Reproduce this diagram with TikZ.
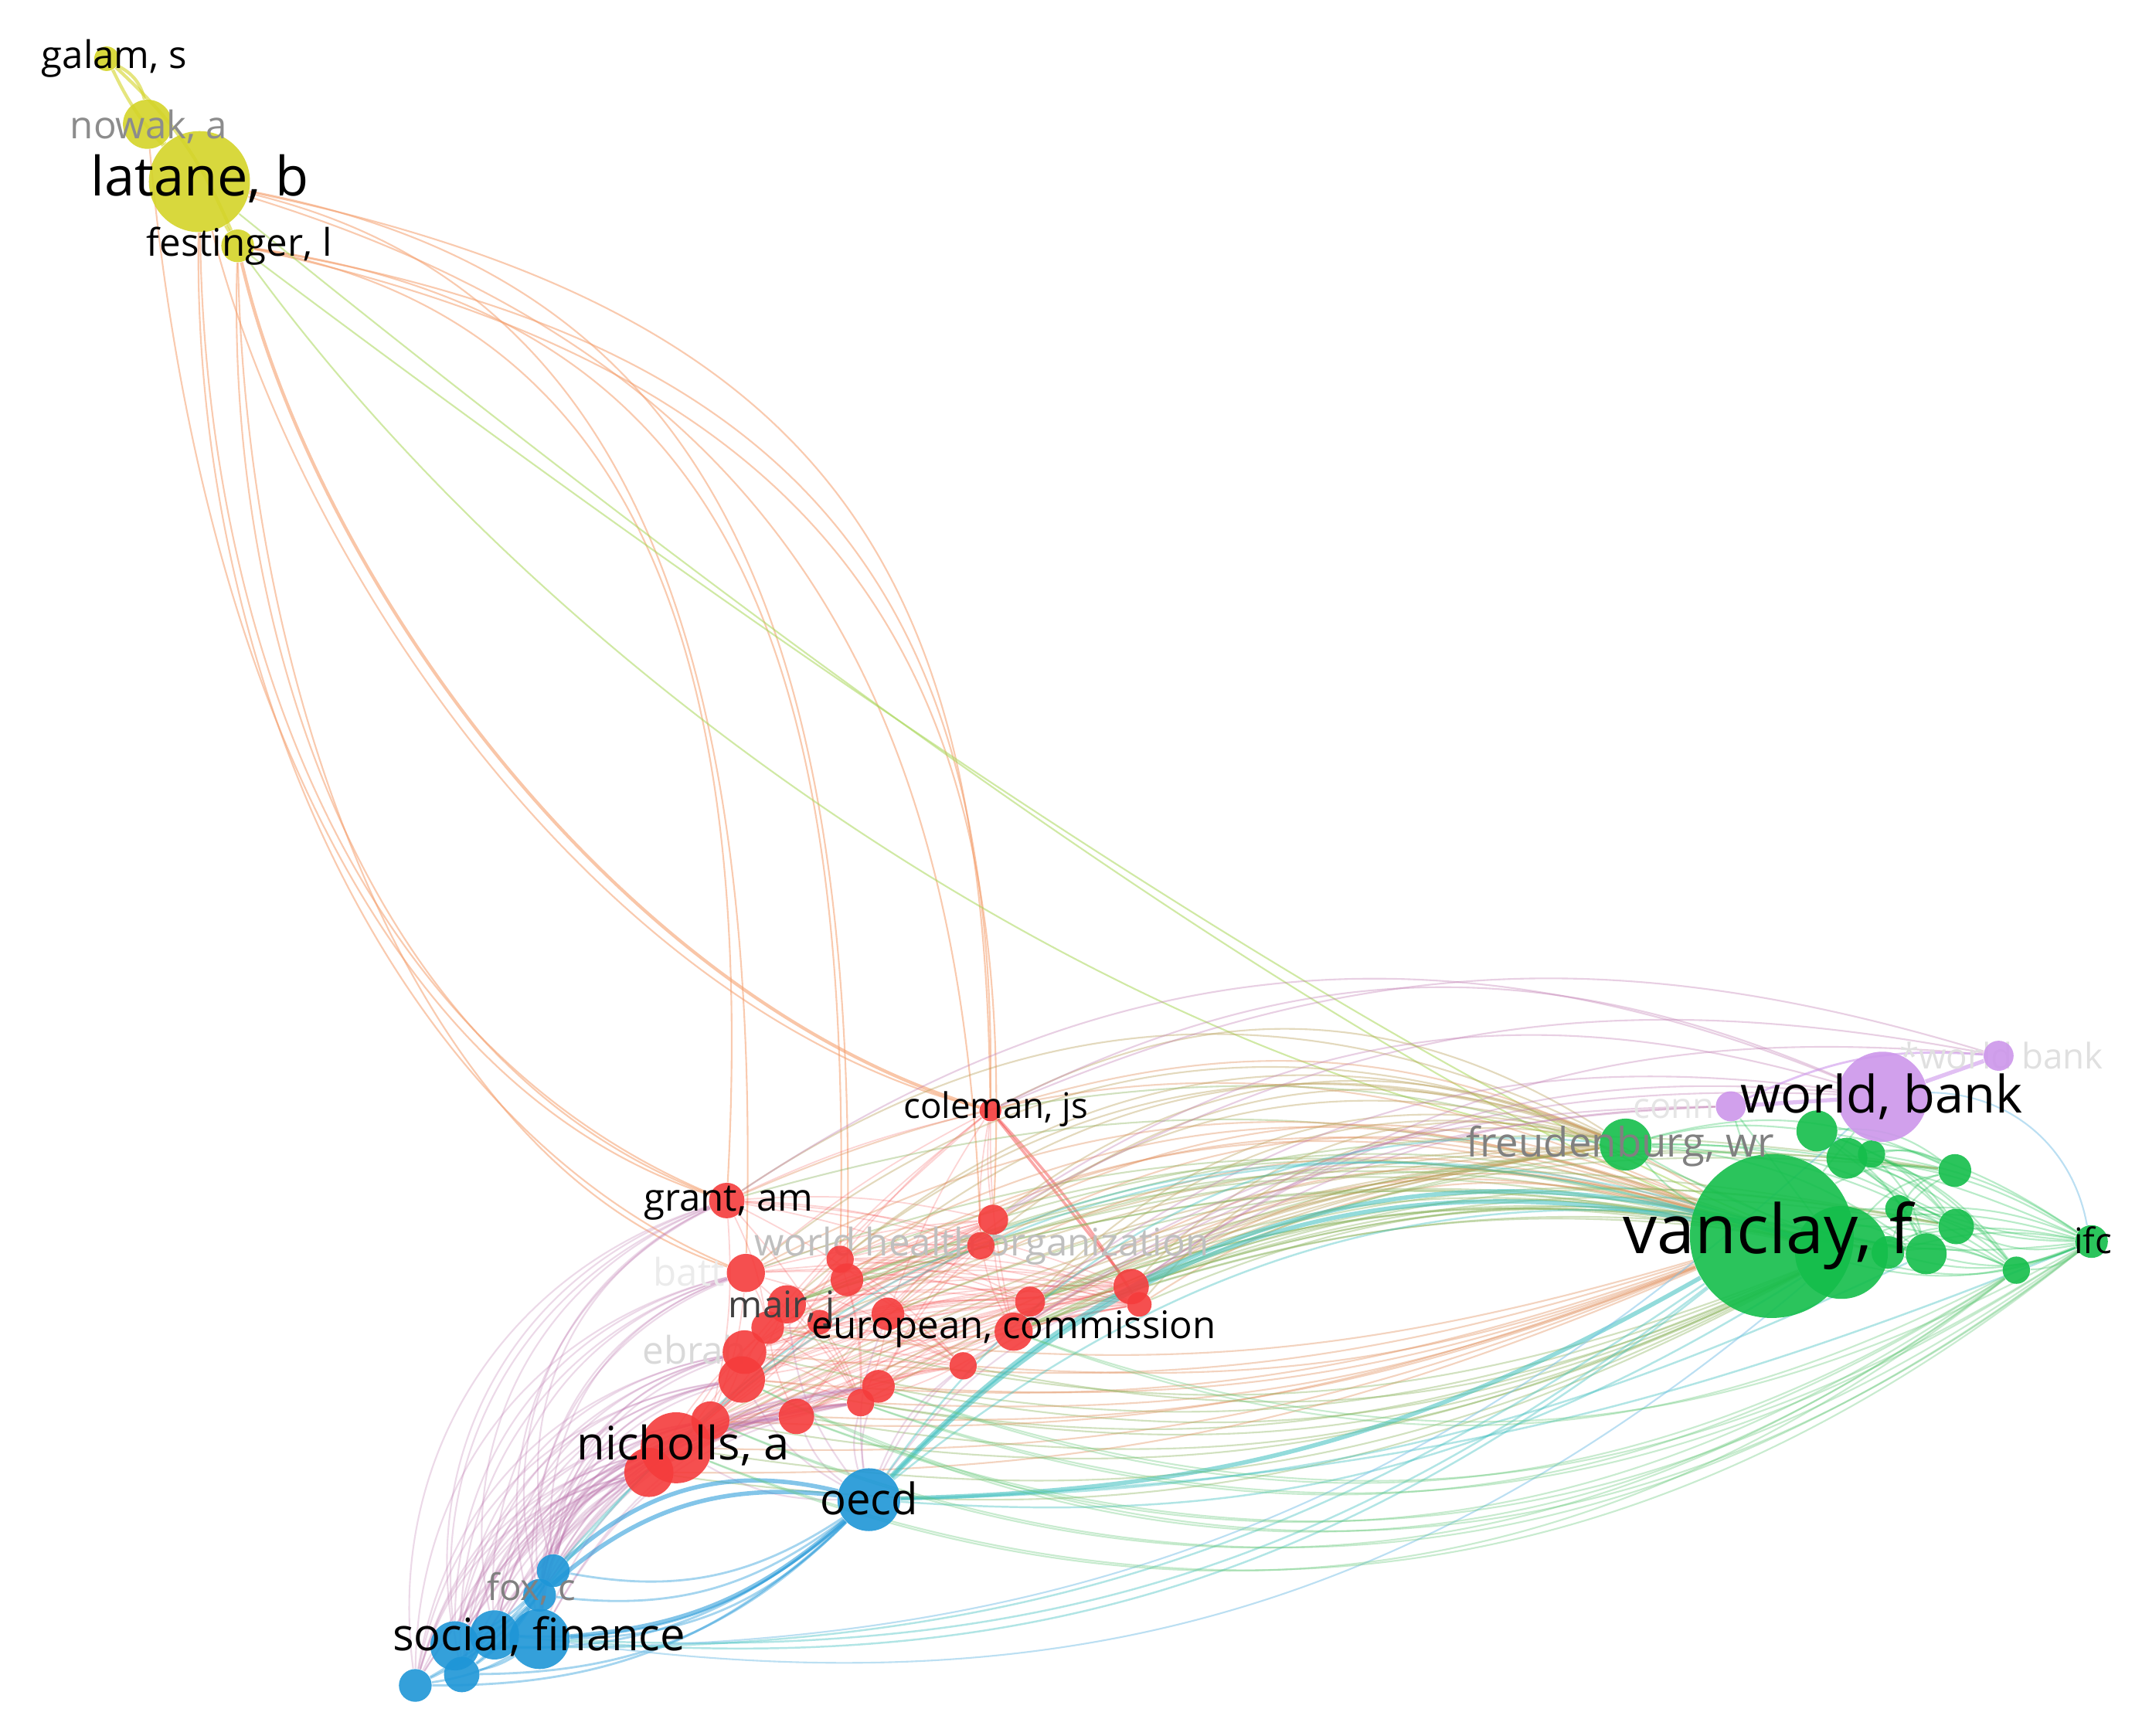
\documentclass[tikz,border=0pt]{standalone}
\usepackage{fontspec}
\setmainfont{Open Sans}
\definecolor{vyel}{RGB}{212,212,40}
\definecolor{vred}{RGB}{245,60,60}
\definecolor{vgrn}{RGB}{20,190,75}
\definecolor{vblu}{RGB}{30,150,215}
\definecolor{vpur}{RGB}{205,150,235}
\definecolor{eorg}{RGB}{225,145,95}
\definecolor{eolv}{RGB}{185,160,90}
\definecolor{eteal}{RGB}{60,190,190}
\definecolor{erb}{RGB}{190,120,175}
\definecolor{elgr}{RGB}{100,200,120}
\definecolor{eogr}{RGB}{140,180,95}
\definecolor{eyr}{RGB}{245,160,110}
\definecolor{eyg}{RGB}{170,215,90}
\pgfdeclarelayer{back}
\pgfdeclarelayer{edges}
\pgfdeclarelayer{faint}
\pgfdeclarelayer{front}
\pgfsetlayers{back,edges,faint,main,front}
\tikzset{
  vn/.style={circle, inner sep=0pt, minimum size=0.503pt*#1, fill opacity=0.9, draw=none},
  lab/.style={font=\fontsize{#1}{#1}\selectfont, inner sep=0pt, text=black},
  eY/.style={draw=vyel, opacity=0.6, line width=1.2pt},
  eYR/.style={draw=eyr, opacity=0.55, line width=0.6pt},
  eYG/.style={draw=eyg, opacity=0.55, line width=0.6pt},
  eR/.style={draw=vred, opacity=0.22, line width=0.5pt},
  eRt/.style={draw=vred, opacity=0.45, line width=1pt},
  eRG/.style={draw=eorg, opacity=0.4, line width=0.6pt},
  eRGo/.style={draw=eolv, opacity=0.4, line width=0.6pt},
  eRGg/.style={draw=eogr, opacity=0.4, line width=0.6pt},
  eRP/.style={draw=erb, opacity=0.35, line width=0.6pt},
  eBR/.style={draw=erb, opacity=0.28, line width=0.6pt},
  eB/.style={draw=vblu, opacity=0.4, line width=0.8pt},
  eBt/.style={draw=vblu, opacity=0.55, line width=1.6pt},
  eBG/.style={draw=eteal, opacity=0.4, line width=0.7pt},
  eBGt/.style={draw=eteal, opacity=0.55, line width=1.6pt},
  eG/.style={draw=vgrn, opacity=0.3, line width=0.6pt},
  eLG/.style={draw=elgr, opacity=0.35, line width=0.6pt},
  eP/.style={draw=vpur, opacity=0.6, line width=1.5pt},
  eLB/.style={draw=vblu!60!white, opacity=0.5, line width=0.6pt},
}
\begin{document}
\begin{tikzpicture}[x=0.01768cm, y=-0.01768cm]
\useasboundingbox (0,0) rectangle (1568,1271);
\begin{pgfonlayer}{back}
\fill[white] (0,0) rectangle (1568,1271);
\end{pgfonlayer}
% ---------------- nodes ----------------
% yellow
\node[vn=18, fill=vyel] (galam) at (78,43) {};
\node[vn=36, fill=vyel] (nowak) at (108,91) {};
\node[vn=74, fill=vyel] (latane) at (146,133) {};
\node[vn=24, fill=vyel] (festinger) at (174,180) {};
% red
\node[vn=16, fill=vred] (coleman) at (725,813) {};
\node[vn=26, fill=vred] (grant) at (532,879) {};
\node[vn=22, fill=vred] (r1) at (727,893) {};
\node[vn=20, fill=vred] (r2) at (718,912) {};
\node[vn=20, fill=vred] (r3) at (615,922) {};
\node[vn=24, fill=vred] (r4) at (620,937) {};
\node[vn=28, fill=vred] (r5) at (546,932) {};
\node[vn=28, fill=vred] (r6) at (576,955) {};
\node[vn=24, fill=vred] (r7) at (562,972) {};
\node[vn=32, fill=vred] (r8) at (545,990) {};
\node[vn=34, fill=vred] (r9) at (543,1010) {};
\node[vn=24, fill=vred] (r10) at (650,962) {};
\node[vn=22, fill=vred] (r11) at (754,953) {};
\node[vn=26, fill=vred] (r12) at (828,942) {};
\node[vn=18, fill=vred] (r13) at (834,955) {};
\node[vn=28, fill=vred] (r14) at (742,975) {};
\node[vn=20, fill=vred] (r15) at (705,1000) {};
\node[vn=24, fill=vred] (r16) at (643,1015) {};
\node[vn=20, fill=vred] (r17) at (630,1027) {};
\node[vn=26, fill=vred] (r18) at (583,1037) {};
\node[vn=28, fill=vred] (r19) at (520,1040) {};
\node[vn=36, fill=vred] (r20) at (475,1078) {};
\node[vn=52, fill=vred] (nicholls) at (495,1060) {};
\node[vn=18, fill=vred] (r21) at (600,968) {};
% blue
\node[vn=46, fill=vblu] (oecd) at (636,1098) {};
\node[vn=24, fill=vblu] (b1) at (405,1150) {};
\node[vn=24, fill=vblu] (b2) at (395,1168) {};
\node[vn=36, fill=vblu] (b4) at (362,1197) {};
\node[vn=36, fill=vblu] (b5) at (333,1205) {};
\node[vn=44, fill=vblu] (b3) at (395,1200) {};
\node[vn=26, fill=vblu] (b6) at (338,1226) {};
\node[vn=24, fill=vblu] (b7) at (304,1234) {};
% green
\node[vn=38, fill=vgrn] (g2) at (1190,838) {};
\node[vn=120, fill=vgrn] (vanclay) at (1297,905) {};
\node[vn=68, fill=vgrn] (g1) at (1348,917) {};
\node[vn=30, fill=vgrn] (g3) at (1330,828) {};
\node[vn=30, fill=vgrn] (g4) at (1352,848) {};
\node[vn=20, fill=vgrn] (g5) at (1370,845) {};
\node[vn=30, fill=vgrn] (g6) at (1410,918) {};
\node[vn=26, fill=vgrn] (g7) at (1432,898) {};
\node[vn=24, fill=vgrn] (g8) at (1431,857) {};
\node[vn=24, fill=vgrn] (g9) at (1382,917) {};
\node[vn=20, fill=vgrn] (g10) at (1476,930) {};
\node[vn=20, fill=vgrn] (g11) at (1390,885) {};
\node[vn=24, fill=vgrn] (ifc) at (1531,909) {};
% purple
\node[vn=66, fill=vpur] (wbank) at (1378,803) {};
\node[vn=22, fill=vpur] (p1) at (1267,810) {};
\node[vn=22, fill=vpur] (p2) at (1463,773) {};
% ---------------- edges ----------------
\begin{pgfonlayer}{edges}
% yellow internal
\draw[eY] (galam) to[bend left=25] (nowak);
\draw[eY] (galam) to[bend right=8] (latane);
\draw[eY] (nowak) -- (latane);
\draw[eY] (latane) -- (festinger);
\draw[eY] (galam) to[bend left=12] (festinger);
% yellow to red
\draw[eYR] (latane) .. controls (150,450) and (250,760) .. (grant);
\draw[eYR] (festinger) .. controls (165,470) and (270,780) .. (grant);
\draw[eYR] (latane) .. controls (140,480) and (280,820) .. (r5);
\draw[eYR] (nowak) .. controls (140,450) and (260,790) .. (grant);
\draw[eYR] (festinger) .. controls (180,500) and (300,850) .. (r5);
\draw[eYR, line width=1.2pt, opacity=0.6] (festinger) .. controls (230,420) and (450,730) .. (coleman);
\draw[eYR] (latane) .. controls (220,420) and (440,740) .. (coleman);
\draw[eYR] (festinger) .. controls (450,230) and (555,450) .. (grant);
\draw[eYR] (latane) .. controls (430,200) and (560,420) .. (r5);
\draw[eYR] (festinger) .. controls (520,230) and (625,450) .. (r3);
\draw[eYR] (latane) .. controls (500,200) and (630,420) .. (r4);
\draw[eYR] (festinger) .. controls (600,250) and (730,450) .. (coleman);
\draw[eYR] (latane) .. controls (620,230) and (720,430) .. (coleman);
\draw[eYR] (festinger) .. controls (640,280) and (745,520) .. (r1);
\draw[eYR] (latane) .. controls (560,260) and (705,500) .. (r2);
% yellow to green
\draw[eYG] (festinger) .. controls (420,520) and (850,790) .. (g2);
\draw[eYG] (latane) .. controls (500,420) and (950,760) .. (vanclay);
\draw[eYG] (festinger) .. controls (520,440) and (1000,780) .. (g1);
% red internal mesh
\foreach \a in {grant,r3,r4,r5,r6,r8,r9,r10,r14,r16,r18,nicholls,r20,r21}
  \foreach \b in {r1,r2,r11,r12,r15,r17,r19,r7,r13}
    \draw[eR] (\a) to[bend left=8] (\b);
\foreach \a in {coleman}
  \foreach \b in {grant,r1,r2,r3,r5,r8,nicholls,r10,r14}
    \draw[eR] (\a) to[bend right=6] (\b);
\draw[eRt] (coleman) -- (r12);
\draw[eRt] (coleman) to[bend left=5] (r13);
% red to green upper
\foreach \s in {grant,r1,r2,r3,r4,r5,r6,r10,r11,r12,r13,r14,coleman}{
  \draw[eRG] (\s) to[bend left=24] (vanclay);
  \draw[eRGo] (\s) to[bend left=30] (g2);
  \draw[eRGg] (\s) to[bend left=18] (g1);
}
% red to green lower
\foreach \s in {nicholls,r8,r9,r16,r17,r18,r19,r20,r15,r7}{
  \draw[eRG] (\s) to[bend right=12] (vanclay);
  \draw[eRGg] (\s) to[bend right=18] (g1);
  \draw[eRGo] (\s) to[bend left=10] (g2);
}
\foreach \s in {r12,r14,r11,r6}
  \foreach \t in {g6,g7,g8,g9}
    \draw[eRGg] (\s) to[bend left=15] (\t);
% red to purple
\foreach \s/\b in {coleman/25,r1/25,r12/20,r11/22,grant/28,r14/18}
  \draw[eRP] (\s) to[bend left=\b] (wbank);
\foreach \s in {r12,r1,coleman}
  \draw[eRP] (\s) to[bend left=20] (p2);
\foreach \s in {r12,r14,r11}
  \draw[eRP] (\s) to[bend left=15] (p1);
% blue to red
\foreach \s in {b1,b2,b3,b4,b5,b6,b7}
  \foreach \t/\b in {nicholls/30,r20/30,r19/32,r9/35,r8/35,r18/28,r16/25,r5/38,r17/25,grant/40}
    \draw[eBR] (\s) to[bend left=\b] (\t);
\foreach \t in {nicholls,r9,r18,r16,r17,r14,r12,r6,r10,r15}
  \draw[eBR] (oecd) to[bend left=15] (\t);
% blue internal and to oecd
\foreach \s in {b1,b2,b3,b4,b5,b6,b7}
  \draw[eB] (\s) to[bend right=22] (oecd);
\draw[eBt] (b1) to[bend left=28] (oecd);
\draw[eBt] (b2) to[bend left=24] (oecd);
\draw[eBt] (b3) to[bend right=18] (oecd);
\foreach \a in {b1,b2,b3}
  \foreach \b in {b4,b5,b6,b7}
    \draw[eB] (\a) to[bend left=10] (\b);
% blue to green
\draw[eBGt] (oecd) to[bend left=28] (vanclay);
\draw[eBGt] (oecd) to[bend left=32] (g1);
\draw[eBG] (oecd) to[bend left=30] (g2);
\draw[eBG] (oecd) to[bend left=26] (g6);
\draw[eBGt] (oecd) to[bend right=14] (vanclay);
\draw[eBG] (oecd) to[bend right=18] (g1);
\draw[eBG] (oecd) to[bend right=12] (g6);
\draw[eBG] (oecd) to[bend right=10] (ifc);
\foreach \s/\b in {b3/20,b4/22,b5/18}
  \draw[eBG] (\s) to[bend right=\b] (vanclay);
\draw[eBG] (b1) to[bend left=34] (g1);
\draw[eBG] (b2) to[bend left=34] (vanclay);
\draw[eLB] (b3) to[bend right=24] (g1);
\draw[eLB] (b5) to[bend right=22] (wbank);
% green internal
\foreach \a in {vanclay,g1,g2,g3,g4,g5,g11,g9}
  \foreach \b/\bb in {g6/15,g7/15,g8/20,g10/15,ifc/12}
    \draw[eG] (\a) to[bend left=\bb] (\b);
\foreach \a in {vanclay,g1,g2,g6,g7,g9,g10,g3,g4}
  \draw[eG] (\a) to[bend right=18] (ifc);
\draw[eG] (g2) to[bend left=10] (g3);
\draw[eG] (g2) to[bend right=10] (vanclay);
% green to red (lower long arcs)
\foreach \t/\b in {nicholls/30,r9/32,r19/30,r18/28,r16/26,r14/24,r17/26}{
  \draw[eLG] (ifc) to[bend left=\b] (\t);
  \draw[eLG] (g10) to[bend left=\b] (\t);
}
% purple
\draw[eP] (wbank) -- (p2);
\draw[eP] (wbank) -- (p1);
\draw[eP, line width=0.8pt] (p1) to[bend left=15] (p2);
\draw[eLB] (wbank) to[bend left=40] (ifc);
\draw[eG] (wbank) -- (vanclay);
\draw[eG] (p1) -- (vanclay);
\draw[eG] (p1) -- (g1);
\end{pgfonlayer}
% ---------------- faint labels (behind nodes) ----------------
\begin{pgfonlayer}{faint}
\node[lab=14, text=black!25, anchor=west] (lwho) at (552,912) {world health organization};
\node[lab=14, text=black!8, anchor=west] (lbatt) at (478,931) {batt};
\node[lab=14, text=black!15, anchor=west] (lebr) at (470,988) {ebrah};
\node[lab=13, text=black!12, anchor=west] (lwb2) at (1390,773) {*world bank};
\node[lab=13, text=black!10, anchor=west] (lconn) at (1195,812) {conn};
\end{pgfonlayer}
% ---------------- labels ----------------
\begin{pgfonlayer}{front}
\node[lab=14, anchor=west] (lgalam) at (30,43) {galam, s};
\node[lab=14, text=black!45, anchor=west] (lnowak) at (51,93) {nowak, a};
\node[lab=20, anchor=west] (llatane) at (66,131) {latane, b};
\node[lab=14, anchor=west] (lfest) at (107,180) {festinger, l};
\node[lab=13, anchor=west] (lcol) at (661,812) {coleman, js};
\node[lab=14, anchor=west] (lgrant) at (471,881) {grant, am};
\node[lab=13.5, text=black!75, anchor=west] (lmair) at (533,958) {mair, j};
\node[lab=14, anchor=west] (leu) at (594,973) {european, commission};
\node[lab=17, anchor=west] (lnich) at (422,1058) {nicholls, a};
\node[lab=16, anchor=west] (loecd) at (600,1097) {oecd};
\node[lab=13.5, text=black!50, anchor=west] (lfox) at (356,1163) {fox, c};
\node[lab=16.5, anchor=west] (lsoc) at (287,1198) {social, finance};
\node[lab=25, anchor=west] (lvan) at (1188,905) {vanclay, f};
\node[lab=19, anchor=west] (lwb) at (1274,803) {world, bank};
\node[lab=15, text=black!50, anchor=west] (lfreud) at (1073,839) {freudenburg, wr};
\node[lab=13, anchor=west] (lifc) at (1518,908) {ifc};
\end{pgfonlayer}
\end{tikzpicture}
\end{document}
